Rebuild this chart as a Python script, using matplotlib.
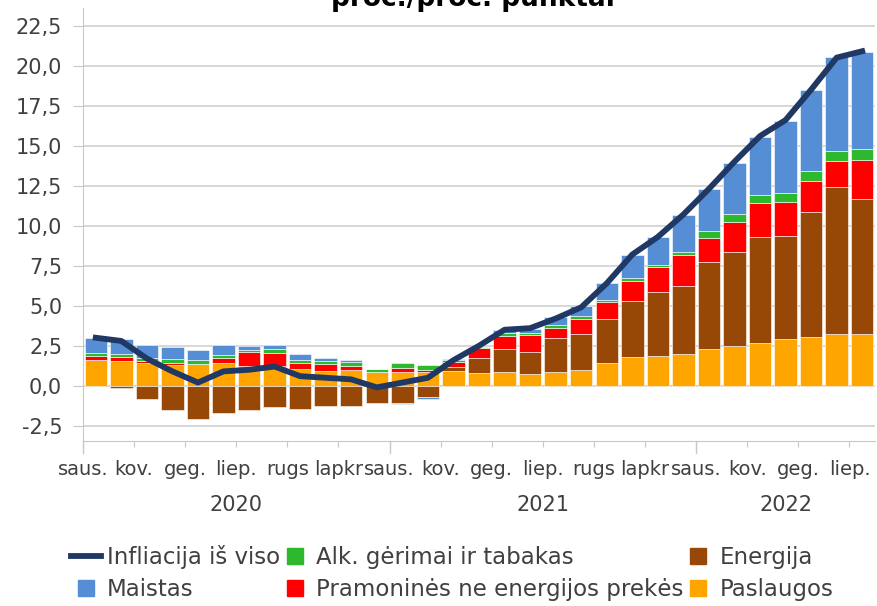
import numpy as np
import matplotlib; matplotlib.use('Agg')
import matplotlib.pyplot as plt
from matplotlib.lines import Line2D

plt.rcParams['font.family'] = ['DejaVu Sans']

# monthly contributions, Jan 2020 .. Jul 2022 (proc. punktai)
paslaugos  = [1.60, 1.56, 1.40, 1.31, 1.35, 1.42, 1.25, 1.25, 1.04, 0.94, 1.00, 0.83,
              0.88, 0.83, 0.90, 0.81, 0.87, 0.73, 0.87, 0.98, 1.43, 1.80, 1.87, 1.98,
              2.27, 2.51, 2.69, 2.90, 3.06, 3.25, 3.25]
energija   = [0.00, -0.15, -0.85, -1.52, -2.06, -1.69, -1.52, -1.31, -1.42, -1.27, -1.25, -1.10,
              -1.06, -0.69, 0.28, 0.92, 1.40, 1.37, 2.10, 2.25, 2.74, 3.49, 3.98, 4.25,
              5.46, 5.86, 6.60, 6.46, 7.79, 9.15, 8.42]
pramonines = [0.23, 0.21, 0.12, 0.10, 0.00, 0.29, 0.83, 0.81, 0.40, 0.40, 0.25, 0.00,
              0.25, 0.17, 0.28, 0.60, 0.85, 1.06, 0.62, 0.96, 1.04, 1.27, 1.54, 1.96,
              1.50, 1.85, 2.10, 2.10, 1.96, 1.62, 2.46]
alk        = [0.20, 0.21, 0.20, 0.29, 0.27, 0.23, 0.17, 0.21, 0.19, 0.23, 0.25, 0.23,
              0.29, 0.29, 0.15, 0.12, 0.15, 0.15, 0.23, 0.15, 0.14, 0.17, 0.15, 0.15,
              0.46, 0.54, 0.52, 0.58, 0.60, 0.65, 0.65]
maistas    = [0.98, 0.94, 0.81, 0.73, 0.60, 0.62, 0.21, 0.25, 0.38, 0.19, 0.10, 0.00,
              -0.08, -0.15, 0.04, 0.00, 0.21, 0.23, 0.48, 0.62, 1.04, 1.45, 1.77, 2.35,
              2.58, 3.18, 3.65, 4.52, 5.06, 5.85, 6.06]
infliacija = [3.0, 2.8, 1.7, 0.9, 0.2, 0.9, 1.0, 1.2, 0.6, 0.5, 0.4, -0.1,
              0.2, 0.5, 1.6, 2.5, 3.5, 3.6, 4.2, 4.9, 6.4, 8.2, 9.3, 10.7,
              12.3, 14.0, 15.6, 16.6, 18.5, 20.5, 20.9]
month_labels = ['saus.', 'kov.', 'geg.', 'liep.', 'rugs', 'lapkr'] * 2 + ['saus.', 'kov.', 'geg.', 'liep.']
years = ['2020', '2021', '2022']

series = [(paslaugos, 'Paslaugos', '#FFA500'),
          (energija, 'Energija', '#974806'),
          (pramonines, 'Pramoninės ne energijos prekės', '#FF0000'),
          (alk, 'Alk. gėrimai ir tabakas', '#2DB82D'),
          (maistas, 'Maistas', '#558ED5')]
line_col = '#1F3864'
txt_col = '#404040'
ax_col = '#C8C8C8'

fig = plt.figure(figsize=(8.77, 6.06), dpi=100)
ax = fig.add_axes([83/877, 1-441/606, 792/877, 433/606])

n = len(infliacija)
x = np.arange(n)
pos = np.zeros(n); neg = np.zeros(n)
for vals, lab, col in series:
    v = np.array(vals)
    bottom = np.where(v >= 0, pos, neg)
    ax.bar(x, v, 0.88, bottom=bottom, color=col, edgecolor='white', linewidth=0.4, zorder=2)
    pos += np.where(v >= 0, v, 0); neg += np.where(v < 0, v, 0)

ax.plot(x, infliacija, color=line_col, lw=4.2, zorder=3)

ax.set_xlim(-0.5, n-0.5)
ax.set_ylim(-3.45, 23.6)
yt = np.arange(-2.5, 22.6, 2.5)
ax.set_yticks(yt)
ax.set_yticklabels([f'{v:.1f}'.replace('.', ',') for v in yt], fontsize=15, color=txt_col)
ax.yaxis.grid(True, color='#D4D4D4', lw=1.3, zorder=0)
ax.set_axisbelow(True)
ax.tick_params(axis='y', length=7, color=ax_col, pad=8)

xt = np.arange(-0.5, n-0.5, 2)
ax.set_xticks(xt)
ax.set_xticklabels(month_labels, fontsize=14, color=txt_col)
ax.tick_params(axis='x', length=4, color=ax_col, pad=10)
for xv in [-0.5, 11.5, 23.5]:
    ax.plot([xv, xv], [0, -0.028], transform=ax.get_xaxis_transform(), color=ax_col, lw=1, clip_on=False)
for xv, yr in zip([5.5, 17.5, 27.0], years):
    ax.text(xv, -0.147, yr, transform=ax.get_xaxis_transform(), ha='center', va='center', fontsize=15, color=txt_col)

for s in ['top', 'right']:
    ax.spines[s].set_visible(False)
ax.spines['left'].set_color(ax_col)
ax.spines['bottom'].set_color(ax_col)

fig.text(473/877, 1-6/606, 'proc./proc. punktai', ha='center', va='baseline', fontsize=19, fontweight='bold', color='black')

def sq(c):
    return Line2D([], [], marker='s', ms=11, ls='none', color=c)

handles = [Line2D([], [], color=line_col, lw=4.2),
           sq(series[4][2]), sq(series[3][2]), sq(series[2][2]), sq(series[1][2]), sq(series[0][2])]
labels = ['Infliacija iš viso', 'Maistas', 'Alk. gėrimai ir tabakas',
          'Pramoninės ne energijos prekės', 'Energija', 'Paslaugos']
fig.legend(handles, labels, ncol=3, loc='center', bbox_to_anchor=(452/877, 1-573/606), frameon=False,
           fontsize=16.5, handlelength=1.31, handletextpad=0.26, columnspacing=0.0,
           labelspacing=0.4, labelcolor=txt_col, borderpad=0, borderaxespad=0)

fig.savefig('out.png', dpi=100)
